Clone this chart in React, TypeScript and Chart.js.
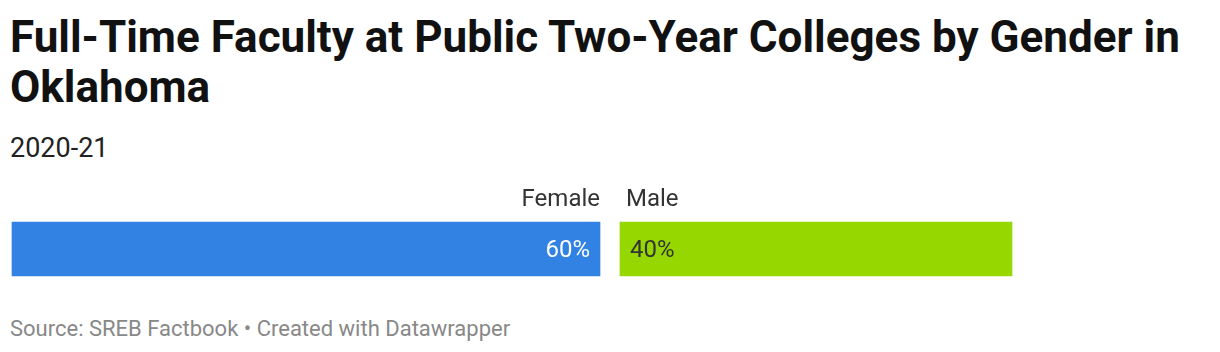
import React, { useEffect, useRef } from "react";
import { Chart, registerables } from "chart.js";

Chart.register(...registerables);

const categories = ["Oklahoma"];
const seriesNames = ["Female", "Male"];
const femaleValues = [60];
const maleValues = [40];
const seriesColors = ["#3182e2", "#96d700"];
const valueTextColors = ["#ffffff", "#333333"];

const GAP = 20;

const gapPlugin = {
  id: "gapShift",
  afterDatasetsUpdate(chart: any) {
    const meta = chart.getDatasetMeta(1);
    meta.data.forEach((el: any) => {
      el.x += GAP;
      el.base += GAP;
    });
  },
};

const labelPlugin = {
  id: "segLabels",
  afterDatasetsDraw(chart: any) {
    const ctx = chart.ctx;
    ctx.save();
    chart.data.datasets.forEach((ds: any, i: number) => {
      const meta = chart.getDatasetMeta(i);
      meta.data.forEach((el: any, j: number) => {
        const top = el.y - el.height / 2;
        const start = Math.min(el.x, el.base);
        const end = Math.max(el.x, el.base);
        ctx.font = "24px Roboto";
        ctx.textBaseline = "alphabetic";
        ctx.fillStyle = "#333333";
        if (i === 0) {
          ctx.textAlign = "right";
          ctx.fillText(ds.label, end, top - 16);
        } else {
          ctx.textAlign = "left";
          ctx.fillText(ds.label, start + 6, top - 16);
        }
        ctx.fillStyle = valueTextColors[i];
        const txt = ds.data[j] + "%";
        if (i === 0) {
          ctx.textAlign = "right";
          ctx.fillText(txt, end - 10, el.y + 7.5);
        } else {
          ctx.textAlign = "left";
          ctx.fillText(txt, start + 10, el.y + 7.5);
        }
      });
    });
    ctx.restore();
  },
};

export default function App() {
  const ref = useRef<HTMLCanvasElement | null>(null);

  useEffect(() => {
    if (!ref.current) return;
    const chart = new Chart(ref.current, {
      type: "bar",
      data: {
        labels: categories,
        datasets: [
          {
            label: seriesNames[0],
            data: femaleValues,
            backgroundColor: seriesColors[0],
            borderWidth: 0,
            categoryPercentage: 1,
            barPercentage: 1,
            clip: false,
          },
          {
            label: seriesNames[1],
            data: maleValues,
            backgroundColor: seriesColors[1],
            borderWidth: 0,
            categoryPercentage: 1,
            barPercentage: 1,
            clip: false,
          },
        ],
      },
      options: {
        indexAxis: "y",
        animation: false,
        responsive: false,
        maintainAspectRatio: false,
        events: [],
        layout: { padding: { left: 12, right: 228, top: 42, bottom: 14 } },
        scales: {
          x: { stacked: true, min: 0, max: 100, display: false },
          y: { stacked: true, display: false },
        },
        plugins: {
          legend: { display: false },
          tooltip: { enabled: false },
          title: { display: false },
        },
      },
      plugins: [gapPlugin, labelPlugin],
    });
    return () => chart.destroy();
  }, []);

  return (
    <div
      style={{
        position: "fixed",
        left: 0,
        top: 0,
        width: 1220,
        height: 352,
        background: "#fff",
        fontFamily: "Roboto, sans-serif",
      }}
    >
      <div
        style={{
          position: "absolute",
          left: 10,
          top: 11.5,
          fontSize: 44,
          fontWeight: 700,
          lineHeight: "50px",
          color: "#111",
          whiteSpace: "nowrap",
        }}
      >
        Full-Time Faculty at Public Two-Year Colleges by Gender in
        <br />
        Oklahoma
      </div>
      <div
        style={{
          position: "absolute",
          left: 10,
          top: 131.8,
          fontSize: 27,
          lineHeight: "32px",
          color: "#222",
          whiteSpace: "nowrap",
        }}
      >
        2020-21
      </div>
      <canvas
        ref={ref}
        width={1220}
        height={110}
        style={{ position: "absolute", left: 0, top: 180, width: 1220, height: 110 }}
      />
      <div
        style={{
          position: "absolute",
          left: 10,
          top: 315.5,
          fontSize: 22,
          lineHeight: "26px",
          color: "#888",
          whiteSpace: "nowrap",
        }}
      >
        Source: SREB Factbook • Created with Datawrapper
      </div>
    </div>
  );
}
